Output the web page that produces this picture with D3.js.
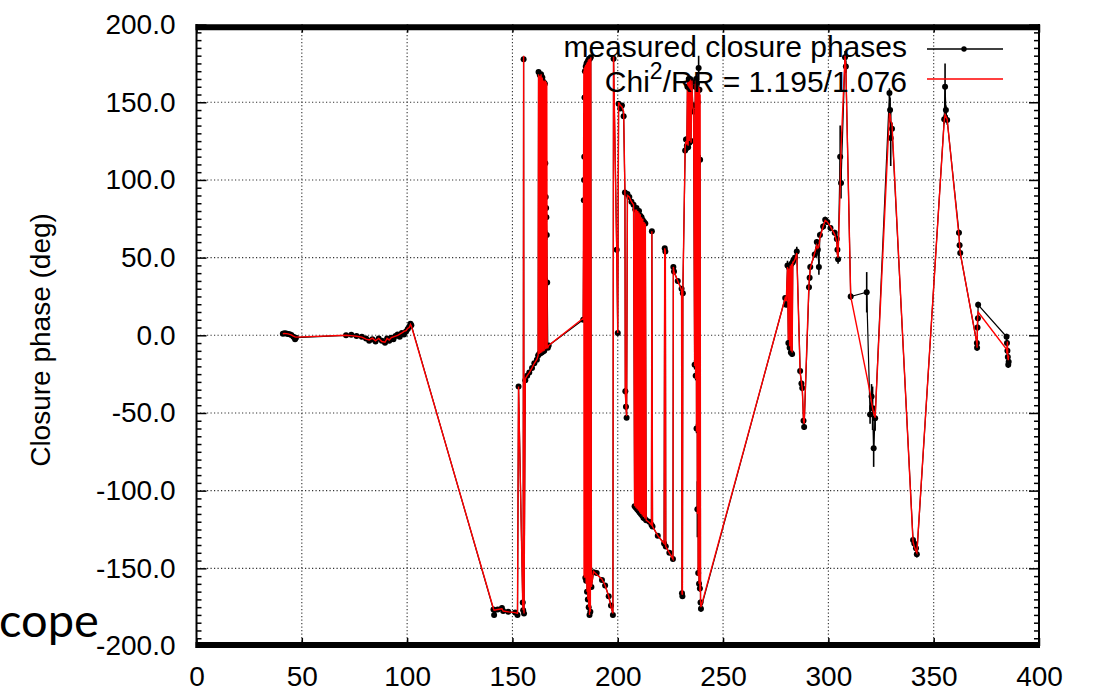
<!DOCTYPE html>
<html>
<head>
<meta charset="utf-8">
<script src="https://cdn.jsdelivr.net/npm/d3@7"></script>
<style>
body { margin: 0; background: #fff; }
svg { display: block; }
</style>
</head>
<body>
<svg id="svg"></svg>
<script>
// closure phase data
var sampleX = [41.0,41.8,42.6,43.4,44.2,45.0,46.0,46.8,47.2,71.0,73.5,76.0,78.5,80.5,82.0,83.5,85.0,86.5,88.0,89.5,90.5,91.5,92.5,93.5,94.5,95.5,96.5,97.5,98.5,99.5,100.3,101.0,101.6,102.0,
141.0,141.3,143.0,145.0,145.6,148.0,151.3,152.4,152.9,154.9,155.1,155.3,155.5,156.1,157.0,158.0,159.3,160.4,161.6,162.2,
162.4,162.7,163.0,163.3,163.6,163.9,164.2,164.5,164.8,165.1,165.4,165.6,165.8,166.0,166.1,166.3,166.5,166.8,167.2,
183.6,183.9,184.0,184.1,184.2,184.4,184.6,184.8,185.0,185.2,185.4,185.6,185.8,186.0,186.2,186.4,186.6,186.8,187.0,187.2,187.5,
188.5,190.0,192.5,194.0,195.7,196.8,197.7,198.0,199.5,200.0,200.4,201.2,202.0,202.8,203.4,203.6,203.9,204.2,204.6,205.5,206.5,207.5,
208.0,208.3,208.6,208.9,209.2,209.5,209.8,210.1,210.4,210.7,211.0,211.3,211.6,211.9,212.2,212.5,212.8,213.1,213.5,215.0,216.0,216.2,216.5,
219.0,222.0,222.3,222.6,222.8,224.5,226.2,226.4,226.7,228.5,230.3,230.5,230.7,230.9,
232.0,232.4,232.8,233.1,233.4,233.7,234.0,234.4,234.8,235.2,235.6,236.0,236.5,236.8,237.0,237.2,237.4,237.6,237.8,238.0,238.2,238.4,238.6,238.8,239.0,239.1,239.3,239.5,
279.5,280.0,280.6,281.0,281.3,281.6,281.9,282.2,282.5,282.8,283.1,283.4,284.2,285.0,286.6,287.2,287.6,288.2,288.5,
290.8,291.1,291.4,293.5,294.5,295.0,295.5,296.0,297.5,298.5,299.5,301.0,303.0,304.0,304.3,304.6,305.6,306.0,307.9,308.3,
310.6,318.2,319.8,320.5,321.0,321.5,322.2,329.0,329.3,329.6,330.2,340.2,340.8,341.6,342.0,
355.0,355.4,355.8,356.4,362.0,362.3,362.6,370.5,370.6,370.8,371.0,371.1,384.6,384.8,385.0,385.2,385.4,385.6];

var measured = [1.0,1.3,1.1,0.9,0.6,0.2,-1.0,-2.5,-1.5,0.0,0.3,-0.5,-1.0,-2.0,-3.5,-2.5,-4.0,-2.0,-3.5,-4.8,-2.0,-3.5,-1.5,-2.5,-0.5,0.5,-1.0,1.5,0.5,2.5,4.0,5.5,7.5,6.5,
-176.5,-180,-176.5,-175.5,-177.5,-178,-178.5,-180,-33,-172,-177,177.7,-179,-29,-26,-24,-21,-18,-15.8,-13,
169.5,-12,167.5,-11.5,168,-11,166,-10.5,163,-10,162,110.7,89,82,76,64.5,34,-8,-6.5,
10,87,100,115,153,170,-156,173,-158,175,-165,176,-170,177,-175,178,-180,178,-178,179,-162,
-152.5,-153,-157.5,-161,-168,-174,-180,178,55,1.5,149,146,148,141,92,-36,-46,-53,91,89,86,84,
-110,81,-111,82,-112,80,-113,80,-114,77,-115,76,-116,74,-117.5,73,-118,72,-119,-120,-122,67,-123,
-129,-134,56,54,-136,-140,-144,44,41,35,30,-166,-168,27,
119,126,122,160,121,165,124,165,125,163,148,144,-19,160,-26,165,-60,162,-112,150,-153,172,-160,158,-163,113,-172,-176,
24,19.6,45,-5,44,-8,45,-11,46,-12,47,48.5,50,54,-23,-31,-34,-55,-59,
31,37,44,52,60,55,44,64.6,70,74.3,73,69,66,62,55,49,115,98,179,173,
25,27.7,-51,-39.4,-47,-72.7,-53.4,156,145,127,133,-131.7,-134,-137,-141,
139,160,145,138.6,66,58,53,-5,-8,5,11,19.6,-1,-5,-10,-14,-19,-17];

var measuredErr = [1,1,1,1,1,1,1,1,1,1,1,1,1,1,1,1,1,1,1,1,1,1,1,1,1,1,1,1,1,1,1,1,1,1,
1.5,1.5,1,1.5,1,1,1,1,1.5,1,1,1,1,1,1,1,1,1,1,1,
1.5,1,1.5,1,1.5,1,1.5,1,2,1,2,10,3,3,3,3,3,1,1,
1,3,3,3,2,1.5,1.5,1,1,1,1,1,1,1,1,1,1,1,1,1,1,
1.5,1,1,1,1.5,1,1.5,2,2,1.5,1.5,1.5,1,1.5,1.5,2,2,1.5,1.5,1,1,1,
1.5,1,1,1,1,1,1,1,1,1.5,1,1,1,1,1,1,1,1,1,1,1.5,1,1,
1,1.5,1,1,1.5,1,1.5,1.5,1,1,1.5,1.5,1,1.5,
2,2,2,2,2,2,2,2,2,2,2,2,3,2,3,2,3,2,18,2,2,8,2,2,2,3,2,2,
1.5,1.5,3,2,2,2,2,2,2,2,2,3,2,3,2,2,2,2,2,
2,2,2,2,2,3,5,2,2,2,2,2,2,3,3,3,20,10,4,4,
2,13,6,8,14,12,8,3,8,18,4,2,2,2,2,
3,15,3,3,2,2,2,2,2,2,2,2,2,2,2,2,2,2];

var model = [1.0,1.2,1.1,0.9,0.6,0.3,-0.5,-1.0,-1.2,0.0,-0.2,-0.6,-1.2,-2.5,-3.0,-1.8,-3.5,-2.0,-4.0,-4.5,-2.0,-3.0,-1.5,-1.0,-0.5,0.0,0.8,1.5,2.5,3.0,4.5,5.0,7.0,6.0,
-176,-177,-176.5,-176,-177.5,-178,-178.5,-179,-33,-174,-177,180,-179,-28,-26,-24,-21,-18,-15.5,-13,
168,-12,167,-11.5,168,-11,166,-10.5,164,-10,162,164,-9,163,-8.5,162,-8,-8,-6.5,
11,170,-155,172,-156,173,-156,174,-160,175,-165,176,-170,177,-175,178,-180,178,-178,179,-162,
-152,-154,-157,-161,-168,-175,-179,180,56,1.5,150,148,147,144,93,-37,-46,-52,90,89,86,84,
-110,81,-111,81,-112,80,-113,79,-114,78,-115,76,-116,75,-117,73,-118,72,-119,-120.5,-122,67,-123,
-129,-134,56,54,-136,-140,-144,44,41,35,29,-166,-167,27,
121,125,123,163,122,164,125,165,124,164,147,145,-20,162,-28,164,-62,163,-115,161,-155,160,-160,159,-165,155,-171,-175,
24,22,44,-3,43,-7,45,-10,46,-11,47,47,49,53,-24,-30,-34,-55,-57,
34,38,43,53,58,56,57,63,70,74,73,70,65,60,52,50,95,120,180,172,
25,-26,-37,-43,-47,-50,-53,143,142,138,136,-133,-136,-139,-140,
138,142,141,139,64,58,53,-5,-8,10,14,15,-9,-12,-4,-14,-16,-13];

var xTicks = [0,50,100,150,200,250,300,350,400];
var yTicks = [-200,-150,-100,-50,0,50,100,150,200];
var yMinor = d3.range(-200, 201, 5).filter(function(v){ return v % 50 !== 0; });

var legendLabels = ["measured closure phases", "Chi", "2", "/RR = 1.195/1.076"];

var W = 1097, H = 689;
var font = "'Liberation Sans', Arial, Helvetica, sans-serif";

var svg = d3.select("#svg").attr("width", W).attr("height", H);

svg.append("rect").attr("width", W).attr("height", H).attr("fill", "#fff");

var x = d3.scaleLinear().domain([0, 400]).range([196.5, 1039]);
var y = d3.scaleLinear().domain([-200, 200]).range([646, 24.6]);

var pts = sampleX.map(function(d, i){
  return {x: d, obs: measured[i], err: measuredErr[i], mod: model[i]};
});

// grid
var grid = svg.append("g").attr("class", "grid");
grid.selectAll("line.gx")
.data(xTicks.filter(function(d){ return d > 0 && d < 400; }))
.enter().append("line")
.attr("x1", function(d){ return x(d); })
.attr("x2", function(d){ return x(d); })
.attr("y1", y(200)).attr("y2", y(-200))
.attr("stroke", "#333").attr("stroke-width", 1.1)
.attr("stroke-dasharray", "1.2,2.3");
grid.selectAll("line.gy")
.data(yTicks.filter(function(d){ return d > -200 && d < 200; }))
.enter().append("line")
.attr("y1", function(d){ return y(d); })
.attr("y2", function(d){ return y(d); })
.attr("x1", x(0)).attr("x2", x(400))
.attr("stroke", "#333").attr("stroke-width", 1.1)
.attr("stroke-dasharray", "1.2,2.3");

// axes
function styleAxis(g){
  g.select(".domain").remove();
  g.selectAll(".tick line").attr("stroke", "#000").attr("stroke-width", 1.5);
  g.selectAll(".tick text").attr("fill", "#000").style("font-family", font).style("font-size", "28px");
}

svg.append("g").attr("transform", "translate(" + x(0) + ",0)")
.call(d3.axisLeft(y).tickValues(yTicks).tickSize(-10).tickPadding(21)
  .tickFormat(function(d){ return d.toFixed(1); }))
.call(styleAxis);
svg.append("g").attr("transform", "translate(" + x(0) + ",0)")
.call(d3.axisLeft(y).tickValues(yMinor).tickSize(-5).tickFormat(""))
.call(styleAxis);
svg.append("g").attr("transform", "translate(" + x(400) + ",0)")
.call(d3.axisRight(y).tickValues(yTicks).tickSize(-10).tickFormat(""))
.call(styleAxis);
svg.append("g").attr("transform", "translate(" + x(400) + ",0)")
.call(d3.axisRight(y).tickValues(yMinor).tickSize(-5).tickFormat(""))
.call(styleAxis);
svg.append("g").attr("transform", "translate(0," + y(-200) + ")")
.call(d3.axisBottom(x).tickValues(xTicks).tickSize(-8).tickPadding(20))
.call(styleAxis);
svg.append("g").attr("transform", "translate(0," + y(200) + ")")
.call(d3.axisTop(x).tickValues(xTicks).tickSize(-8).tickFormat(""))
.call(styleAxis);

// frame
svg.append("line").attr("x1", x(0)).attr("x2", x(0)).attr("y1", 24).attr("y2", 648)
.attr("stroke", "#000").attr("stroke-width", 2);
svg.append("line").attr("x1", x(400)).attr("x2", x(400)).attr("y1", 24).attr("y2", 648)
.attr("stroke", "#000").attr("stroke-width", 2);
svg.append("line").attr("x1", x(0) - 1).attr("x2", x(400) + 1).attr("y1", 27.3).attr("y2", 27.3)
.attr("stroke", "#000").attr("stroke-width", 6);
svg.append("line").attr("x1", x(0) - 1).attr("x2", x(400) + 1).attr("y1", 645).attr("y2", 645)
.attr("stroke", "#000").attr("stroke-width", 6);

// data
svg.append("clipPath").attr("id", "clip").append("rect")
.attr("x", x(0)).attr("y", y(200) - 2).attr("width", x(400) - x(0)).attr("height", y(-200) - y(200) + 2);
var plot = svg.append("g").attr("clip-path", "url(#clip)");

plot.selectAll("line.err").data(pts).enter().append("line")
.attr("x1", function(d){ return x(d.x); })
.attr("x2", function(d){ return x(d.x); })
.attr("y1", function(d){ return y(d.obs - d.err); })
.attr("y2", function(d){ return y(d.obs + d.err); })
.attr("stroke", "#000").attr("stroke-width", 1.6);

var obsLine = d3.line().x(function(d){ return x(d.x); }).y(function(d){ return y(d.obs); });
var modLine = d3.line().x(function(d){ return x(d.x); }).y(function(d){ return y(d.mod); });

plot.append("path").datum(pts).attr("d", obsLine)
.attr("fill", "none").attr("stroke", "#000").attr("stroke-width", 1.2);

plot.selectAll("circle").data(pts).enter().append("circle")
.attr("cx", function(d){ return x(d.x); })
.attr("cy", function(d){ return y(d.obs); })
.attr("r", 3).attr("fill", "#000");

plot.append("path").datum(pts).attr("d", modLine)
.attr("fill", "none").attr("stroke", "#ff0000").attr("stroke-width", 1.4);

// y title
svg.append("text")
.attr("transform", "translate(50,340) rotate(-90)")
.attr("text-anchor", "middle")
.style("font-family", font).style("font-size", "28px")
.text("Closure phase (deg)");

// legend
svg.append("text")
.attr("x", 907).attr("y", 57).attr("text-anchor", "end")
.style("font-family", font).style("font-size", "30px")
.text(legendLabels[0]);
var l2 = svg.append("text")
.attr("x", 907).attr("y", 92).attr("text-anchor", "end")
.style("font-family", font).style("font-size", "30px");
l2.append("tspan").text(legendLabels[1]);
l2.append("tspan").attr("dy", -13).style("font-size", "23px").text(legendLabels[2]);
l2.append("tspan").attr("dy", 13).text(legendLabels[3]);

svg.append("line").attr("x1", 927).attr("x2", 1003).attr("y1", 49).attr("y2", 49)
.attr("stroke", "#000").attr("stroke-width", 1.3);
svg.append("circle").attr("cx", 964).attr("cy", 49).attr("r", 2.7).attr("fill", "#000");
svg.append("line").attr("x1", 927).attr("x2", 1003).attr("y1", 79).attr("y2", 79)
.attr("stroke", "#ff0000").attr("stroke-width", 1.3);

// leftover from the slide behind the chart
svg.append("text")
.attr("x", -1).attr("y", 637)
.style("font-family", "Lato, 'Open Sans', sans-serif").style("font-size", "47px")
.attr("fill", "#000")
.text("cope");
</script>
</body>
</html>
